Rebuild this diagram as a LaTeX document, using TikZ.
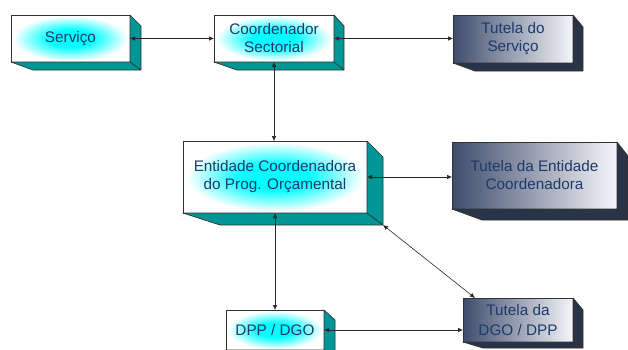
\documentclass[tikz,border=0pt]{standalone}
\usepackage{fontspec}
\setmainfont{Liberation Sans}
\usetikzlibrary{arrows.meta,calc}

\definecolor{labelblue}{RGB}{28,58,108}
\definecolor{tealside}{RGB}{0,150,150}
\definecolor{navyside}{RGB}{42,52,72}
\definecolor{slatedark}{RGB}{62,76,108}
\definecolor{slatelight}{RGB}{246,246,250}
\definecolor{edgegray}{RGB}{50,50,50}

% cyan glow in the middle of the white panels
\pgfdeclareradialshading{glowshade}{\pgfpoint{0bp}{0bp}}{%
  color(0bp)=(cyan); color(9bp)=(cyan); color(24bp)=(white); color(50bp)=(white)}

\tikzset{
  slab/.style={draw=edgegray, line width=0.7pt, inner sep=0pt, outer sep=0pt,
    anchor=north west, align=center, text=labelblue,
    font=\fontsize{15.3}{18}\selectfont},
  plainbox/.style={slab, fill=white,
    path picture={\shade[shading=glowshade]
      let \p1=(path picture bounding box.north east),
          \p2=(path picture bounding box.south west) in
      (path picture bounding box.center)
      ellipse [x radius={0.5*abs(\x1-\x2)}, y radius={0.5*abs(\y1-\y2)}];}},
  tutbox/.style={slab, left color=slatedark, right color=slatelight},
  link/.style={draw=black!85, line width=0.6pt,
    {Latex[length=5pt,width=4.5pt]}-{Latex[length=5pt,width=4.5pt]}},
}

% extruded right side and bottom of a panel
% #1 node, #2 colour, #3 depth x, #4 drop of top edge, #5 shift of bottom edge, #6 depth y
\newcommand\slabsides[6]{%
  \filldraw[fill=#2, draw=edgegray, line width=0.7pt, line join=round]
    (#1.north east) -- ++(#3,#4) -- ([shift={(#3,#6)}]#1.south east) -- (#1.south east) -- cycle
    (#1.south west) -- ++(#5,#6) -- ([shift={(#3,#6)}]#1.south east) -- (#1.south east) -- cycle;
  \coordinate (#1-corner) at ([shift={(#3,#6)}]#1.south east);
}

\begin{document}
\begin{tikzpicture}[x=1pt,y=-1pt]
\useasboundingbox (0,0) rectangle (628,349);
\clip (0,0) rectangle (628,349);

% panels
\node[plainbox, minimum width=119pt, minimum height=47pt] (serv) at (11,15) {Serviço};
\node[plainbox, minimum width=120pt, minimum height=47pt] (coord) at (214,15) {Coordenador\\Sectorial};
\node[tutbox, minimum width=120pt, minimum height=48pt] (tserv) at (453,15) {Tutela do\\Serviço};
\node[plainbox, minimum width=184pt, minimum height=72pt] (ent) at (183,141) {Entidade Coordenadora\\do Prog. Orçamental};
\node[tutbox, minimum width=165pt, minimum height=67pt] (tent) at (452,142) {Tutela da Entidade\\Coordenadora};
\node[plainbox, minimum width=98pt, minimum height=40pt] (dpp) at (226,310) {DPP / DGO};
\node[tutbox, minimum width=110pt, minimum height=44pt, font=\fontsize{15.3}{20}\selectfont] (tdgo) at (463,298) {Tutela da\\DGO / DPP};

\slabsides{serv}{tealside}{11}{11}{22}{8}
\slabsides{coord}{tealside}{10}{11}{23}{8}
\slabsides{tserv}{navyside}{10}{12}{22}{8}
\slabsides{ent}{tealside}{16}{16}{37}{12}
\slabsides{tent}{navyside}{11}{14}{30}{11}
\slabsides{dpp}{tealside}{11}{10}{20}{8}
\slabsides{tdgo}{navyside}{10}{12}{20}{6}

% connectors
\draw[link] (serv.east) -- (coord.west);
\draw[link] (coord.east) -- (coord.east -| tserv.west);
\draw[link] (coord.south) -- (coord.south |- ent.north);
\draw[link] (ent.east) -- (ent.east -| tent.west);
\draw[link] (ent.south) -- (ent.south |- dpp.north);
\draw[link] (ent-corner) -- ([xshift=12pt]tdgo.north west);
\draw[link] (dpp.east) -- (dpp.east -| tdgo.west);
\end{tikzpicture}
\end{document}
